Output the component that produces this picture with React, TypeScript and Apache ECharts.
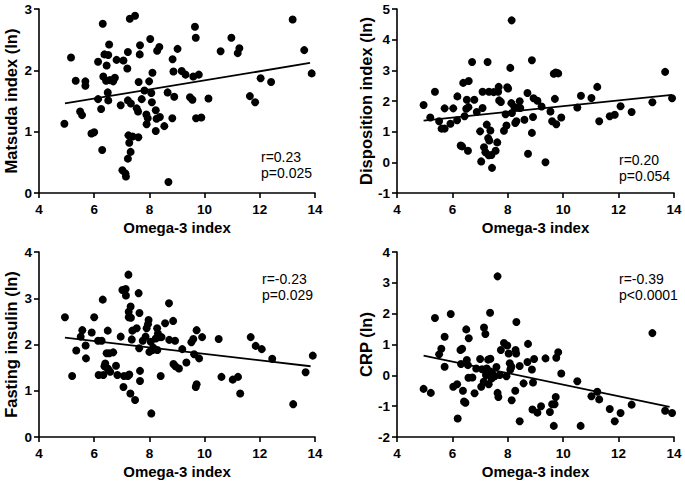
import React, { useEffect, useRef } from "react";
import * as echarts from "echarts";

// Omega-3 index (x) vs. outcome (y) pairs
const matsuda: number[][] = [
  [4.92, 1.13], [5.16, 2.21], [5.33, 1.83], [5.49, 1.33], [5.56, 1.27], [5.68, 1.82], [5.68, 1.75],
  [5.9, 0.97], [6.0, 0.99], [6.14, 2.14], [6.14, 1.53], [6.25, 1.37], [6.29, 0.7], [6.31, 2.76],
  [6.33, 1.9], [6.37, 2.26], [6.43, 1.83], [6.45, 2.08], [6.49, 1.64], [6.51, 2.25], [6.54, 2.42],
  [6.51, 1.51], [6.57, 1.84], [6.69, 1.82], [6.75, 1.88], [6.81, 2.17], [6.96, 1.43], [7.02, 0.37],
  [7.06, 2.16], [7.13, 0.32], [7.15, 0.27], [7.2, 2.03], [7.22, 2.3], [7.22, 0.56], [7.24, 0.94],
  [7.22, 1.51], [7.27, 0.82], [7.29, 2.84], [7.32, 0.67], [7.33, 1.46], [7.39, 0.92], [7.48, 2.89],
  [7.54, 1.38], [7.59, 1.33], [7.6, 0.91], [7.61, 1.81], [7.65, 2.26], [7.66, 2.41], [7.72, 1.53],
  [7.82, 1.67], [7.89, 1.28], [7.9, 1.12], [7.94, 1.22], [7.99, 1.82], [8.03, 2.51], [8.07, 1.63],
  [8.11, 1.96], [8.09, 1.48], [8.23, 1.35], [8.23, 1.01], [8.26, 1.21], [8.28, 2.32], [8.36, 2.38],
  [8.38, 1.24], [8.54, 1.09], [8.66, 1.64], [8.69, 0.18], [8.83, 1.22], [8.84, 2.18], [8.87, 1.98],
  [8.9, 1.57], [9.02, 2.35], [9.17, 1.99], [9.31, 1.93], [9.47, 1.56], [9.56, 1.52], [9.59, 1.9],
  [9.65, 2.71], [9.68, 2.53], [9.69, 1.22], [9.79, 1.93], [9.88, 1.23], [10.14, 1.54], [10.58, 2.31],
  [10.97, 2.53], [11.2, 2.28], [11.26, 2.36], [11.64, 1.58], [11.83, 1.48], [12.03, 1.87],
  [12.41, 1.81], [13.19, 2.83], [13.61, 2.33], [13.88, 1.95],
];

const disposition: number[][] = [
  [4.96, 1.87], [5.2, 1.46], [5.37, 2.3], [5.52, 1.34], [5.61, 1.1], [5.72, 1.1], [5.72, 1.76],
  [5.93, 1.26], [6.03, 1.76], [6.18, 2.15], [6.17, 1.37], [6.3, 0.55], [6.35, 0.52], [6.39, 2.59],
  [6.44, 1.5], [6.52, 2.04], [6.5, 1.75], [6.56, 0.38], [6.59, 2.65], [6.58, 1.8], [6.71, 3.27],
  [6.79, 2.04], [6.88, 1.64], [7.0, 1.01], [7.04, 0.03], [7.09, 2.3], [7.09, 1.77], [7.14, 0.49],
  [7.19, 0.33], [7.24, 1.23], [7.27, 3.27], [7.29, 0.79], [7.31, 0.23], [7.32, 2.3], [7.33, 0.71],
  [7.37, 1.04], [7.41, 0.24], [7.43, -0.18], [7.49, 2.29], [7.56, 0.38], [7.62, 0.65], [7.65, 2.3],
  [7.67, 2.46], [7.69, 2.02], [7.75, 1.97], [7.86, 1.03], [7.92, 1.57], [7.95, 1.2], [7.98, 2.45],
  [8.01, 2.41], [8.09, 3.08], [8.14, 4.63], [8.13, 1.93], [8.15, 1.61], [8.24, 1.8], [8.27, 1.28],
  [8.31, 1.34], [8.39, 1.79], [8.43, 1.99], [8.45, 1.77], [8.6, 1.39], [8.71, 2.26], [8.73, 0.28],
  [8.87, 3.33], [8.87, 0.96], [8.91, 1.48], [8.93, 2.09], [9.07, 2.01], [9.22, 1.82], [9.36, 0.0],
  [9.54, 1.66], [9.6, 1.34], [9.66, 2.89], [9.7, 2.07], [9.75, 1.24], [9.73, 2.93], [9.82, 2.9],
  [9.93, 1.46], [10.51, 1.79], [10.64, 2.17], [11.02, 2.1], [11.23, 2.46], [11.3, 1.34],
  [11.68, 1.5], [11.86, 1.55], [12.07, 1.83], [12.47, 1.64], [13.22, 1.96], [13.68, 2.95],
  [13.93, 2.09],
];

const insulin: number[][] = [
  [4.94, 2.59], [5.2, 1.32], [5.35, 1.87], [5.51, 2.17], [5.57, 2.31], [5.69, 1.98], [5.7, 1.7],
  [5.91, 2.26], [6.0, 2.59], [6.14, 2.08], [6.16, 1.34], [6.27, 2.08], [6.31, 2.97], [6.33, 1.34],
  [6.37, 1.53], [6.4, 1.59], [6.45, 1.81], [6.49, 2.3], [6.49, 1.48], [6.52, 1.45], [6.55, 1.81],
  [6.58, 1.41], [6.69, 1.83], [6.79, 1.54], [6.84, 1.34], [6.96, 2.17], [7.02, 3.18], [7.06, 1.08],
  [7.08, 1.32], [7.14, 3.2], [7.15, 3.06], [7.22, 1.32], [7.24, 3.51], [7.25, 2.71], [7.25, 2.59],
  [7.27, 1.35], [7.31, 0.94], [7.32, 2.82], [7.33, 2.58], [7.36, 2.11], [7.38, 2.3], [7.48, 0.8],
  [7.54, 2.35], [7.61, 3.11], [7.64, 2.68], [7.63, 1.92], [7.66, 1.43], [7.66, 1.21], [7.76, 2.08],
  [7.86, 2.17], [7.9, 2.35], [7.95, 2.44], [7.97, 2.53], [8.0, 1.84], [8.05, 2.06], [8.07, 0.51],
  [8.12, 1.88], [8.14, 1.93], [8.23, 2.13], [8.28, 2.35], [8.31, 2.24], [8.29, 1.88], [8.38, 2.16],
  [8.41, 1.32], [8.44, 2.16], [8.57, 2.46], [8.71, 2.89], [8.72, 2.1], [8.86, 2.51], [8.87, 1.58],
  [8.93, 2.08], [8.94, 1.53], [9.07, 1.48], [9.19, 1.9], [9.34, 1.61], [9.52, 2.05], [9.59, 2.12],
  [9.62, 1.79], [9.68, 1.08], [9.71, 1.14], [9.71, 2.31], [9.8, 1.7], [9.91, 2.16], [10.51, 2.12],
  [10.61, 1.3], [11.02, 1.24], [11.21, 1.3], [11.29, 0.94], [11.67, 2.16], [11.85, 1.97],
  [12.07, 1.9], [12.45, 1.69], [13.21, 0.71], [13.66, 1.4], [13.92, 1.76],
];

const crp: number[][] = [
  [4.96, -0.44], [5.22, -0.57], [5.37, 1.86], [5.52, 0.68], [5.6, 0.86], [5.72, 1.25], [5.72, 0.28],
  [5.94, 1.99], [6.03, -0.37], [6.17, -0.29], [6.19, -1.4], [6.29, 0.82], [6.35, 0.86], [6.31, 0.37],
  [6.38, -0.5], [6.42, -0.85], [6.47, -0.89], [6.5, 1.49], [6.52, 0.5], [6.56, 0.33], [6.58, -0.08],
  [6.59, 1.2], [6.72, -0.07], [6.8, -0.58], [6.86, 0.22], [7.0, 0.53], [7.04, -0.37], [7.07, 0.2],
  [7.13, -0.21], [7.14, 1.55], [7.19, 1.34], [7.21, 0.01], [7.24, 0.22], [7.29, 0.51], [7.31, -0.29],
  [7.36, 2.03], [7.37, 0.54], [7.38, 0.12], [7.41, -0.1], [7.44, 0.06], [7.53, -0.03], [7.59, 0.27],
  [7.63, 3.21], [7.63, -0.57], [7.66, -0.7], [7.71, 0.01], [7.75, 0.82], [7.86, 1.05], [7.95, -0.03],
  [7.98, 0.97], [8.03, 0.71], [8.07, 0.39], [8.09, 0.19], [8.14, -0.81], [8.13, 0.28], [8.27, -0.5],
  [8.28, 0.82], [8.3, 0.71], [8.31, 1.73], [8.43, 0.3], [8.43, -1.49], [8.57, -0.26], [8.71, 0.43],
  [8.73, 1.02], [8.87, 0.19], [8.89, -1.11], [8.91, -0.23], [8.95, 0.53], [9.07, -1.21], [9.2, -1.0],
  [9.36, 0.55], [9.52, -1.19], [9.6, -0.94], [9.66, -1.64], [9.69, -0.94], [9.73, -0.7], [9.75, 0.57],
  [9.82, 0.75], [9.93, 0.06], [10.51, -0.19], [10.63, -1.64], [11.02, -0.68], [11.23, -0.53],
  [11.3, -0.78], [11.68, -1.09], [11.86, -1.49], [12.07, -1.22], [12.47, -0.95], [13.22, 1.37],
  [13.68, -1.15], [13.93, -1.22],
];

// Regression line end points
const matsudaFit: number[][] = [[4.94, 1.46], [13.82, 2.12]];
const dispositionFit: number[][] = [[4.96, 1.36], [13.93, 2.2]];
const insulinFit: number[][] = [[4.94, 2.15], [13.84, 1.53]];
const crpFit: number[][] = [[4.96, 0.64], [13.84, -1.02]];

// Axis ranges [min, max]
const xRange = [4, 14];
const matsudaRange = [0, 3];
const dispositionRange = [-1, 5];
const insulinRange = [0, 4];
const crpRange = [-2, 4];

const yTitles = ["Matsuda index (ln)", "Disposition index (ln)", "Fasting insulin (ln)", "CRP (ln)"];
const xTitle = "Omega-3 index";
const rTexts = ["r=0.23", "r=0.20", "r=-0.23", "r=-0.39"];
const pTexts = ["p=0.025", "p=0.054", "p=0.029", "p<0.0001"];

const FONT = "Arial, 'Liberation Sans', Helvetica, sans-serif";

export default function App() {
  const ref = useRef<HTMLDivElement>(null);

  useEffect(() => {
    document.body.style.margin = "0";
    if (!ref.current) return;
    const chart = echarts.init(ref.current, null, { renderer: "svg" });

    const datasets = [matsuda, disposition, insulin, crp];
    const fits = [matsudaFit, dispositionFit, insulinFit, crpFit];
    const yRanges = [matsudaRange, dispositionRange, insulinRange, crpRange];
    const grids = [
      { left: 39, top: 9, width: 276, height: 184 },
      { left: 397, top: 9, width: 277, height: 184 },
      { left: 39, top: 252, width: 276, height: 185 },
      { left: 397, top: 252, width: 277, height: 185 },
    ];
    const annot = [
      { x: 261, y: 150 },
      { x: 619, y: 153 },
      { x: 262, y: 272 },
      { x: 619, y: 272 },
    ];

    const axisLine = { onZero: false, lineStyle: { color: "#000", width: 1.6 } };
    const axisTick = { show: true, inside: false, length: 5, lineStyle: { color: "#000", width: 1.6 } };
    const axisLabel = { color: "#000", fontWeight: "bold" as const, fontSize: 13.5, fontFamily: FONT };
    const nameStyle = { color: "#000", fontWeight: "bold" as const, fontSize: 15, fontFamily: FONT };

    const option: any = {
      animation: false,
      grid: grids,
      xAxis: grids.map((_, i) => ({
        type: "value",
        gridIndex: i,
        min: xRange[0],
        max: xRange[1],
        interval: 2,
        name: xTitle,
        nameLocation: "middle",
        nameGap: 27,
        nameTextStyle: nameStyle,
        axisLine,
        axisTick,
        axisLabel: { ...axisLabel, margin: 9 },
        splitLine: { show: false },
      })),
      yAxis: grids.map((_, i) => ({
        type: "value",
        gridIndex: i,
        min: yRanges[i][0],
        max: yRanges[i][1],
        interval: 1,
        name: yTitles[i],
        nameLocation: "middle",
        nameGap: 20,
        nameRotate: 90,
        nameTextStyle: { ...nameStyle, fontSize: 16.5 },
        axisLine,
        axisTick,
        axisLabel: { ...axisLabel, margin: 7 },
        splitLine: { show: false },
      })),
      series: [
        ...datasets.map((d, i) => ({
          type: "scatter",
          xAxisIndex: i,
          yAxisIndex: i,
          data: d,
          symbol: "circle",
          symbolSize: 8,
          itemStyle: { color: "#000", opacity: 1 },
          silent: true,
        })),
        ...fits.map((f, i) => ({
          type: "line",
          xAxisIndex: i,
          yAxisIndex: i,
          data: f,
          symbol: "none",
          lineStyle: { color: "#000", width: 1.8 },
          silent: true,
        })),
      ],
      graphic: annot.flatMap((a, i) => [
        {
          type: "text",
          x: a.x,
          y: a.y,
          style: { text: rTexts[i], fill: "#000", font: `14px ${FONT}` },
        },
        {
          type: "text",
          x: a.x,
          y: a.y + 16,
          style: { text: pTexts[i], fill: "#000", font: `14px ${FONT}` },
        },
      ]),
    };

    chart.setOption(option);
    return () => chart.dispose();
  }, []);

  return <div ref={ref} style={{ width: 685, height: 484 }} />;
}
